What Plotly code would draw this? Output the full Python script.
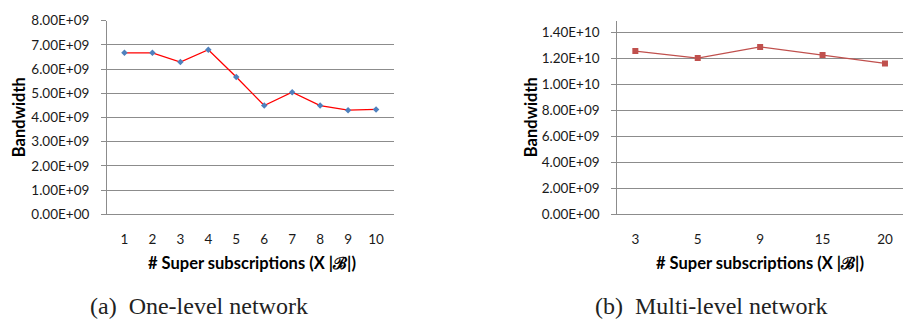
import plotly.graph_objects as go

# One-level network: bandwidth vs. number of super subscriptions
one_x = ["1", "2", "3", "4", "5", "6", "7", "8", "9", "10"]
one_bw = [6.67e9, 6.67e9, 6.29e9, 6.80e9, 5.67e9, 4.49e9, 5.04e9, 4.49e9, 4.30e9, 4.33e9]

# Multi-level network
multi_x = ["3", "5", "9", "15", "20"]
multi_bw = [12.58e9, 12.04e9, 12.90e9, 12.29e9, 11.63e9]

one_ticks = [i * 1e9 for i in range(0, 9)]
multi_ticks = [i * 2e9 for i in range(0, 8)]

x_title = "# Super subscriptions (X |ℬ|)"
captions = ["(a)  One-level network", "(b)  Multi-level network"]

W, H = 903, 330
TICK_FONT = dict(family="Lato, Open Sans, sans-serif", size=13.5, color="#1a1a1a")
GRID = "#8c8c8c"

fig = go.Figure()

fig.add_trace(go.Scatter(
    x=one_x, y=one_bw, xaxis="x", yaxis="y", mode="lines+markers",
    line=dict(color="#ff0000", width=1.3),
    marker=dict(symbol="diamond", size=5, color="#4f81bd"),
    showlegend=False,
))
fig.add_trace(go.Scatter(
    x=multi_x, y=multi_bw, xaxis="x2", yaxis="y2", mode="lines+markers",
    line=dict(color="#c0504d", width=1.3),
    marker=dict(symbol="square", size=6, color="#c0504d"),
    showlegend=False,
))

ytop, ybot = 13.3, 216.7
ydom = [1 - ybot / H, 1 - ytop / H]


def xaxis(dom, anchor):
    return dict(
        domain=dom, anchor=anchor, type="category", showgrid=False, zeroline=False,
        showline=True, linecolor=GRID, ticks="", tickfont=TICK_FONT,
        ticklabelstandoff=13, fixedrange=True,
    )


def yaxis(anchor, ticks, rng):
    return dict(
        anchor=anchor, domain=ydom, range=rng,
        tickvals=ticks, ticktext=[f"{v:.2E}" for v in ticks],
        showgrid=True, gridcolor=GRID, gridwidth=1, zeroline=False,
        showline=True, linecolor=GRID, linewidth=1,
        ticks="outside", ticklen=5, tickcolor=GRID,
        tickfont=TICK_FONT, ticklabelstandoff=9, fixedrange=True,
    )


fig.update_layout(
    width=W, height=H, margin=dict(l=0, r=0, t=0, b=0),
    paper_bgcolor="white", plot_bgcolor="white",
    xaxis=xaxis([107 / W, 393.5 / W], "y"),
    yaxis=yaxis("x", one_ticks, [0, 8e9]),
    xaxis2=xaxis([617.3 / W, 1.0], "y2"),
    yaxis2=yaxis("x2", multi_ticks, [0, 1.493e10]),
)

ann = []
title_font = dict(family="Lato, Open Sans, sans-serif", size=16.5, color="#000000")
for xc in (19, 531):
    ann.append(dict(
        x=xc / W, y=1 - 114.7 / H, xref="paper", yref="paper",
        text="<b>Bandwidth</b>", textangle=-90, showarrow=False,
        font=title_font, xanchor="center", yanchor="middle",
    ))
for xc in (251.7, 760):
    ann.append(dict(
        x=xc / W, y=1 - 268 / H, xref="paper", yref="paper",
        text=f"<b>{x_title}</b>", showarrow=False,
        font=title_font, xanchor="center", yanchor="middle",
    ))
for xc, cap in zip((199, 711), captions):
    ann.append(dict(
        x=xc / W, y=1 - 313 / H, xref="paper", yref="paper",
        text=cap, showarrow=False,
        font=dict(family="Liberation Serif, Times New Roman, serif", size=24, color="#222222"),
        xanchor="center", yanchor="middle",
    ))
fig.update_layout(annotations=ann)

fig.write_html("out.html")
